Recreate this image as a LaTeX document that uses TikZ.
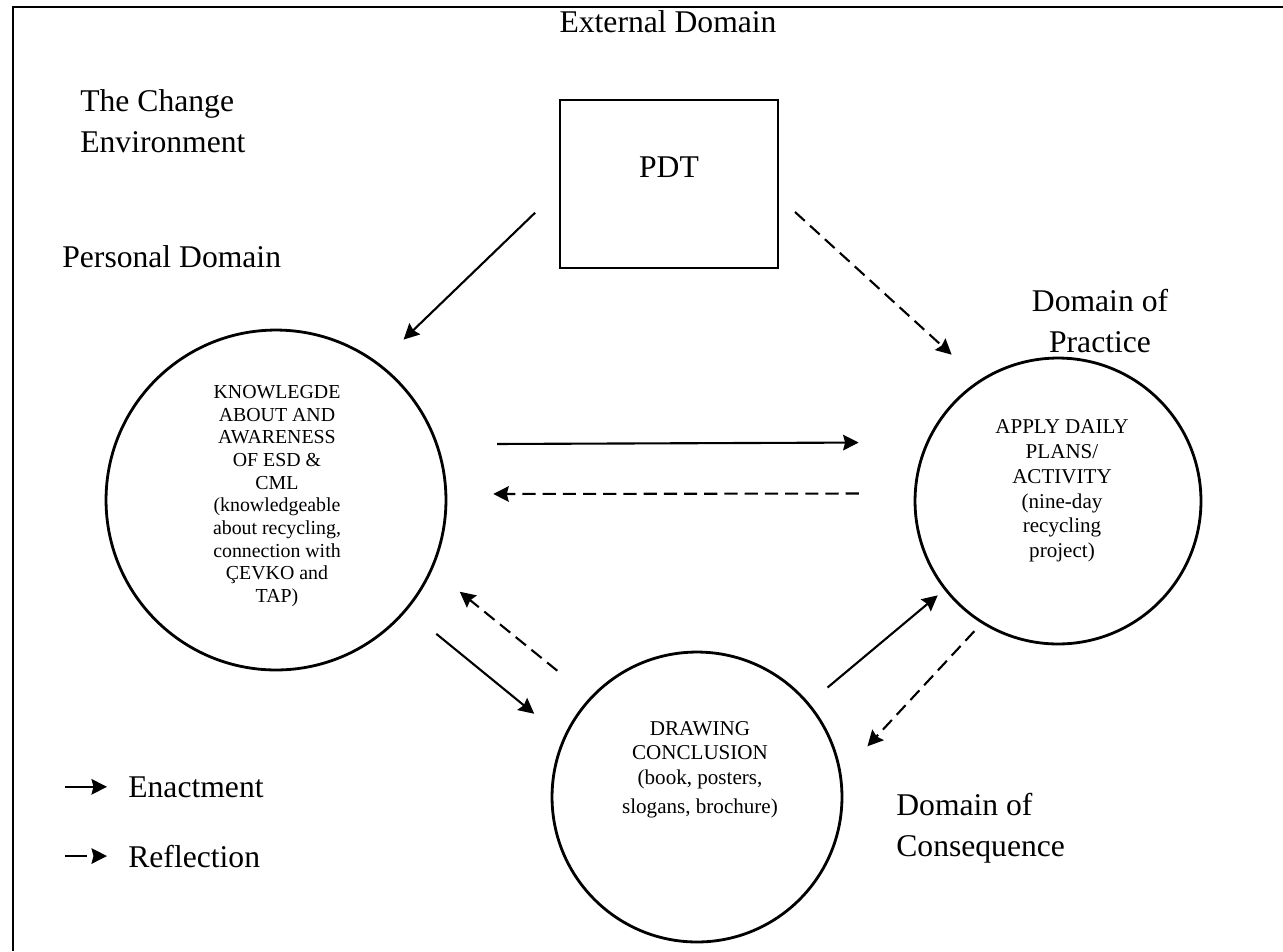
\documentclass[tikz,border=0pt]{standalone}
\usepackage{fontspec}
\setmainfont{Liberation Serif}
\usetikzlibrary{arrows.meta}

\begin{document}
\begin{tikzpicture}[
  x=0.02cm, y=-0.02cm,
  dom/.style={inner sep=0pt, font=\fontsize{18}{23.5}\selectfont},
  ring/.style={draw, circle, line width=1.6pt, inner sep=0pt},
  inner/.style={align=center, inner sep=0pt},
  pdtbox/.style={draw, line width=1.3pt, minimum width=4.36cm, minimum height=3.36cm},
  enact/.style={-{Stealth[length=3.1mm, width=3.1mm, inset=0.4mm]}, line width=1.2pt},
  reflect/.style={enact, dash pattern=on 7.5pt off 4pt}
]
  \useasboundingbox (0,0) rectangle (1283,951);
  % frame
  \draw[line width=1.3pt] (13,951) |- (1283,7);

  % domains
  \node[dom, anchor=base] (extdom) at (668,32) {External Domain};
  \node[dom, anchor=north west, align=left] (change) at (80,89) {The Change\\Environment};
  \node[dom, anchor=base west] (persdom) at (62,267) {Personal Domain};
  \node[dom, anchor=north, align=center] (pracdom) at (1100,289) {Domain of\\Practice};
  \node[dom, anchor=north west, align=left] (consdom) at (896,793) {Domain of\\Consequence};

  % PDT and circles
  \node[pdtbox] (pdt) at (669,184) {};
  \node[dom, anchor=base] (pdtlbl) at (669,177) {PDT};
  \node[ring, minimum size=6.8cm] (know) at (276,500) {};
  \node[ring, minimum size=5.72cm] (apply) at (1058,501) {};
  \node[ring, minimum size=5.8cm] (concl) at (697,797) {};
  \node[inner, font=\fontsize{11.3}{12.9}\selectfont] (knowtxt) at (277,496)
       {KNOWLEGDE\\ABOUT AND\\AWARENESS\\OF ESD \&\\CML\\(knowledgeable\\about recycling,\\connection with\\ÇEVKO and\\TAP)};
  \node[inner, font=\fontsize{12}{14.1}\selectfont] (applytxt) at (1062,491)
       {APPLY DAILY\\PLANS/\\ACTIVITY\\(nine-day\\recycling\\project)};
  \node[inner, font=\fontsize{12}{13.8}\selectfont] (concltxt) at (700,770)
       {DRAWING\\CONCLUSION\\(book, posters,\\[3pt]slogans, brochure)};

  % enactment
  \draw[enact, shorten <=0.66cm, shorten >=0.68cm] (pdt.183.3) -- (know.53.4);
  \draw[enact, shorten <=1.18cm, shorten >=1.35cm] (know.19.6) -- (apply.156.1);
  \draw[enact, shorten <=0.75cm, shorten >=0.75cm] (know.320) -- (concl.156.8);
  \draw[enact, shorten <=0.48cm, shorten >=0.17cm] (concl.40.3) -- (apply.218.2);

  % reflection
  \draw[reflect, shorten <=0.43cm, shorten >=0.75cm] (pdt.353) -- (apply.123.1);
  \draw[reflect, shorten <=1.10cm, shorten >=0.92cm] (apply.177.2) -- (know.2);
  \draw[reflect, shorten <=0.84cm, shorten >=0.70cm] (concl.137.4) -- (know.336.5);
  \draw[reflect, shorten <=0.21cm, shorten >=0.76cm] (apply.238) -- (concl.9.7);

  % legend
  \node[dom, anchor=base west] (enactlbl) at (128,797) {Enactment};
  \node[dom, anchor=base west] (reflectlbl) at (128,867) {Reflection};
  \draw[enact] ([xshift=-1.26cm]enactlbl.west) -- ([xshift=-0.42cm]enactlbl.west);
  \draw[enact, dash pattern=on 0.44cm off 1cm] ([xshift=-1.26cm]reflectlbl.west) -- ([xshift=-0.42cm]reflectlbl.west);
\end{tikzpicture}
\end{document}
